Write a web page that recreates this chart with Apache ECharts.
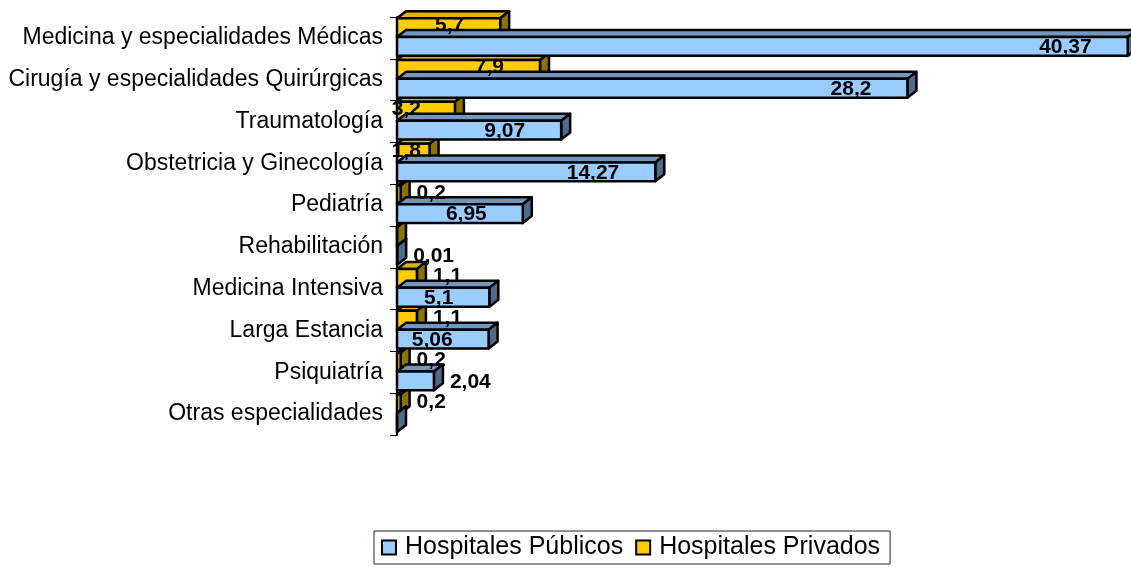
<!DOCTYPE html>
<html>
<head>
<meta charset="utf-8">
<script src="https://cdn.jsdelivr.net/npm/echarts@6/dist/echarts.min.js"></script>
<style>
  html, body { margin: 0; padding: 0; background: #fff; }
  #main { width: 1131px; height: 567px; }
</style>
</head>
<body>
<div id="main"></div>
<script>
"use strict";

// categorías (de arriba a abajo)
const categorias = [
    'Medicina y especialidades Médicas',
    'Cirugía y especialidades Quirúrgicas',
    'Traumatología',
    'Obstetricia y Ginecología',
    'Pediatría',
    'Rehabilitación',
    'Medicina Intensiva',
    'Larga Estancia',
    'Psiquiatría',
    'Otras especialidades'
];

// valores de cada serie
const publicos = [40.37, 28.2, 9.07, 14.27, 6.95, 0.01, 5.1, 5.06, 2.04, 0];
const privados = [5.7, 7.9, 3.2, 1.8, 0.2, 0, 1.1, 1.1, 0.2, 0.2];

const chart = echarts.init(document.getElementById('main'));

const fmt = v => String(v).replace('.', ',');

/**
 * barra con efecto 3D (cara frontal, superior y lateral)
 */
const make3d = (colors, slot, minInside) => (params, api) => {
    const idx = params.dataIndex;
    const val = api.value(0);
    const cat = api.value(1);
    const p0 = api.coord([0, cat]);
    const p1 = api.coord([val, cat]);
    const band = api.size([0, 1])[1];
    const barH = band * 0.45;
    const x0 = p0[0];
    const x1 = p1[0];
    const y0 = p0[1] - band / 2 + band * 0.03 + slot * barH;
    const y1 = y0 + barH;
    const dx = 9, dy = 7;
    const base = (categorias.length - idx) * 10 + slot * 5;
    const line = { stroke: '#000', lineWidth: 2.5, lineJoin: 'round' };

    const children = [{
        type: 'polygon',
        z2: base + 1,
        shape: { points: [[x0, y0], [x0 + dx, y0 - dy], [x1 + dx, y0 - dy], [x1, y0]] },
        style: Object.assign({ fill: colors.top }, line)
    }, {
        type: 'polygon',
        z2: base + 2,
        shape: { points: [[x1, y0], [x1 + dx, y0 - dy], [x1 + dx, y1 - dy], [x1, y1]] },
        style: Object.assign({ fill: colors.side }, line)
    }, {
        type: 'rect',
        z2: base + 3,
        shape: { x: x0, y: y0, width: x1 - x0, height: barH },
        style: Object.assign({ fill: colors.front }, line)
    }];

    if (val > 0) {
        const inside = val >= minInside;
        children.push({
            type: 'text',
            z2: 1000,
            style: {
                x: inside ? Math.max(x1 - 36, x0 + 24) : x1 + 16,
                y: (y0 + y1) / 2 + (slot === 0 ? -2 : 1),
                text: fmt(val),
                align: inside ? 'right' : 'left',
                verticalAlign: 'middle',
                fill: '#000',
                font: 'bold 21px "Liberation Sans", Arial, sans-serif'
            }
        });
    }
    return { type: 'group', children: children };
};

const toData = items => items.map((v, i) => [v, i]);

const azul = { front: '#99CCFF', top: '#7396BD', side: '#4F6A8A' };
const amarillo = { front: '#FFCC00', top: '#E0B400', side: '#8C7200' };

const option = {
    animation: false,
    textStyle: { fontFamily: '"Liberation Sans", Arial, sans-serif' },
    grid: { left: 397, top: 17, width: 724, height: 418 },
    xAxis: { type: 'value', min: 0, max: 40, show: false },
    yAxis: {
        type: 'category',
        inverse: true,
        data: categorias,
        axisLine: { lineStyle: { color: '#000', width: 2 } },
        axisTick: { show: true, length: 7, lineStyle: { color: '#000', width: 1 } },
        axisLabel: { color: '#000', fontSize: 23, margin: 14 }
    },
    legend: {
        left: 374,
        top: 531,
        icon: 'rect',
        itemWidth: 14,
        itemHeight: 14,
        itemGap: 12,
        padding: [4, 10, 4, 7],
        borderColor: '#222',
        borderWidth: 1,
        textStyle: { color: '#000', fontSize: 25, padding: [0, 0, 0, 4] },
        data: [
            { name: 'Hospitales Públicos', itemStyle: { color: '#99CCFF', borderColor: '#000', borderWidth: 2 } },
            { name: 'Hospitales Privados', itemStyle: { color: '#FFCC00', borderColor: '#000', borderWidth: 2 } }
        ]
    },
    series: [{
        type: 'custom',
        name: 'Hospitales Públicos',
        itemStyle: { color: '#99CCFF' },
        encode: { x: 0, y: 1 },
        clip: false,
        renderItem: make3d(azul, 1, 3),
        data: toData(publicos)
    }, {
        type: 'custom',
        name: 'Hospitales Privados',
        itemStyle: { color: '#FFCC00' },
        encode: { x: 0, y: 1 },
        clip: false,
        renderItem: make3d(amarillo, 0, 1.5),
        data: toData(privados)
    }]
};
chart.setOption(option);
</script>
</body>
</html>
